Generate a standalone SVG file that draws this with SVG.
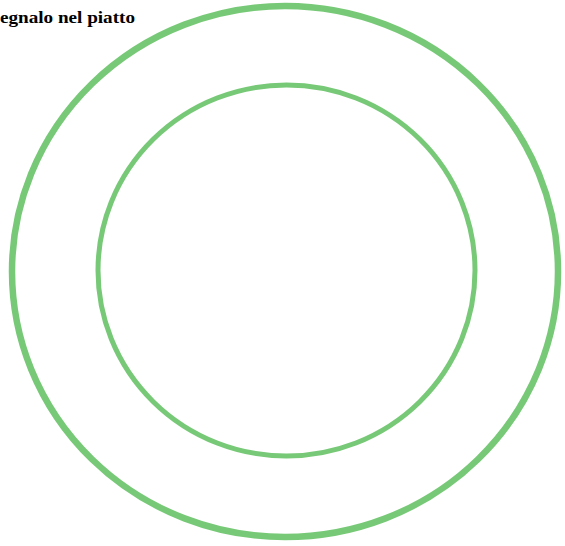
<svg xmlns="http://www.w3.org/2000/svg" width="565" height="546" viewBox="0 0 565 546">
<style>
.ring{fill:none;stroke:#77c977}
.lbl{font-family:"Liberation Serif",serif;font-weight:bold;font-size:16px;fill:#000}
</style>
<rect width="565" height="546" fill="#fff"/>
<g id="outer-plate"><ellipse class="ring" cx="285" cy="271.5" rx="273" ry="265.5" stroke-width="6.5"/></g>
<g id="inner-plate"><ellipse class="ring" cx="286.5" cy="270.5" rx="188.5" ry="185.5" stroke-width="5"/></g>
<g id="title"><text class="lbl" x="0" y="23" textLength="135" lengthAdjust="spacingAndGlyphs">egnalo nel piatto</text></g>
</svg>
